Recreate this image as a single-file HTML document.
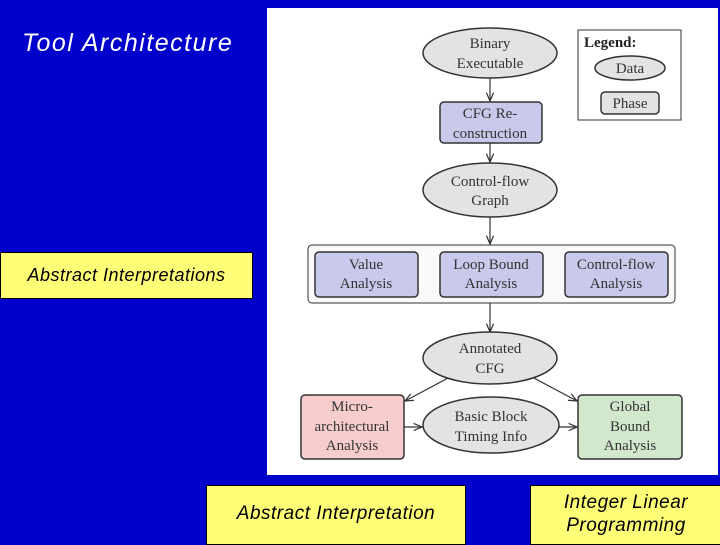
<!DOCTYPE html>
<html><head><style>
body{margin:0;width:720px;height:540px;background:#0000cc;position:relative;overflow:hidden;font-family:"Liberation Sans",sans-serif}
.y{position:absolute;background:#ffff77;border:1px solid #000;font-style:italic;color:#000;text-align:center;box-sizing:border-box;letter-spacing:0.5px}
</style></head><body>
<div style="position:absolute;left:22px;top:29px;color:#fff;font-style:italic;font-size:25px;letter-spacing:1.5px">Tool Architecture</div>
<svg style="position:absolute;left:0;top:0" width="720" height="540" font-family="Liberation Serif,serif" font-size="15" fill="#333">
<defs><marker id="a" markerWidth="8" markerHeight="8" refX="7" refY="4" orient="auto"><path d="M0,1 L7,4 L0,7" fill="none" stroke="#333" stroke-width="1"/></marker></defs>
<rect x="267" y="8" width="451" height="467" fill="#fff"/>
<g stroke="#333" stroke-width="1.2">
<line x1="490" y1="78" x2="490" y2="101" marker-end="url(#a)"/>
<line x1="490" y1="143" x2="490" y2="162" marker-end="url(#a)"/>
<line x1="490" y1="217" x2="490" y2="244" marker-end="url(#a)"/>
<line x1="490" y1="303" x2="490" y2="332" marker-end="url(#a)"/>
<line x1="450" y1="377" x2="405" y2="401" marker-end="url(#a)"/>
<line x1="532" y1="377" x2="577" y2="401" marker-end="url(#a)"/>
<line x1="404" y1="427" x2="422" y2="427" marker-end="url(#a)"/>
<line x1="559" y1="427" x2="577" y2="427" marker-end="url(#a)"/>
</g>
<g stroke="#333" stroke-width="1.5" fill="#e3e3e6">
<ellipse cx="490" cy="53" rx="67" ry="25"/>
<ellipse cx="490" cy="190" rx="67" ry="27"/>
<ellipse cx="490" cy="358" rx="67" ry="26"/>
<ellipse cx="491" cy="425" rx="68" ry="28"/>
<rect x="440" y="102" width="102" height="41" rx="4" fill="#c9c9ec"/>
<rect x="308" y="245" width="367" height="58" rx="4" fill="#fafafa" stroke-width="1"/>
<rect x="315" y="252" width="103" height="45" rx="4" fill="#c9c9ec"/>
<rect x="440" y="252" width="103" height="45" rx="4" fill="#c9c9ec"/>
<rect x="565" y="252" width="103" height="45" rx="4" fill="#c9c9ec"/>
<rect x="301" y="395" width="103" height="64" rx="4" fill="#f6cccc"/>
<rect x="578" y="395" width="104" height="64" rx="4" fill="#d2e8cd"/>
<rect x="578" y="30" width="103" height="90" fill="#fff" stroke-width="1"/>
<ellipse cx="630" cy="68" rx="35" ry="12"/>
<rect x="601" y="92" width="58" height="22" rx="4"/>
</g>
<g text-anchor="middle">
<text x="490" y="48">Binary</text><text x="490" y="68">Executable</text>
<text x="490" y="118">CFG Re-</text><text x="490" y="138">construction</text>
<text x="490" y="186">Control-flow</text><text x="490" y="205">Graph</text>
<text x="366" y="269">Value</text><text x="366" y="288">Analysis</text>
<text x="491" y="269">Loop Bound</text><text x="491" y="288">Analysis</text>
<text x="616" y="269">Control-flow</text><text x="616" y="288">Analysis</text>
<text x="490" y="353">Annotated</text><text x="490" y="373">CFG</text>
<text x="352" y="411">Micro-</text><text x="352" y="431">architectural</text><text x="352" y="450">Analysis</text>
<text x="491" y="421">Basic Block</text><text x="491" y="441">Timing Info</text>
<text x="630" y="411">Global</text><text x="630" y="431">Bound</text><text x="630" y="450">Analysis</text>
<text x="630" y="73">Data</text><text x="630" y="108">Phase</text>
</g>
<text x="584" y="47" font-weight="bold" fill="#222">Legend:</text>
</svg>
<div class="y" style="left:0;top:252px;width:253px;height:47px;line-height:45px;font-size:18px">Abstract Interpretations</div>
<div class="y" style="left:206px;top:485px;width:260px;height:60px;line-height:56px;font-size:19px">Abstract Interpretation</div>
<div class="y" style="left:530px;top:485px;width:192px;height:60px;padding-top:5px;font-size:19px;line-height:23px">Integer Linear<br>Programming</div>
</body></html>
